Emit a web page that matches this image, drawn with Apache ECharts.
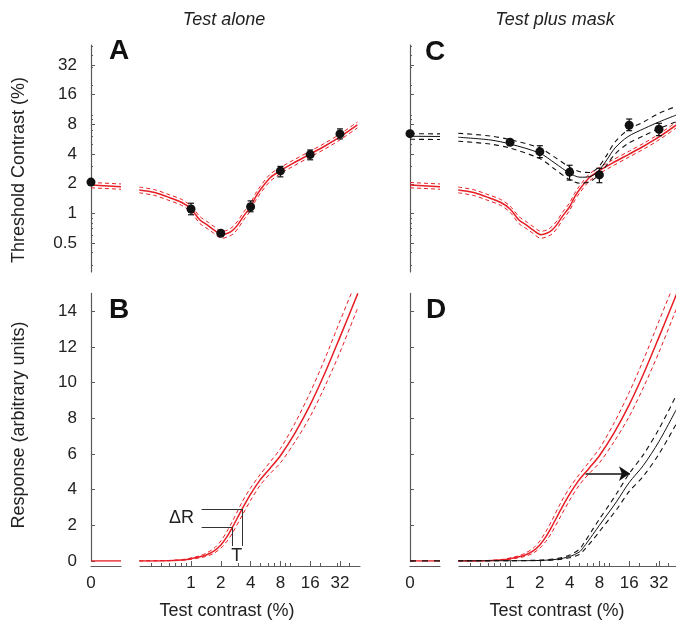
<!DOCTYPE html>
<html><head><meta charset="utf-8">
<script src="https://cdn.jsdelivr.net/npm/echarts@6/dist/echarts.min.js"></script>
<style>html,body{margin:0;padding:0;background:#fff}#c{width:676px;height:621px}</style>
</head><body><div id="c"></div>
<script>
// ================= DATA =================
// axis ticks
const xTickLabels = [1, 2, 4, 8, 16, 32];
const xMinorTicks = [0.4, 0.5, 0.6, 0.7, 0.8, 0.9, 3, 5, 6, 7, 9, 10, 20, 30, 40];
const thrTickLabels = [0.5, 1, 2, 4, 8, 16, 32];
const thrMinorTicks = [0.3, 0.4, 0.6, 0.7, 0.8, 0.9, 3, 5, 6, 7, 9, 10, 20, 30, 40, 50];
const respTickLabels = [0, 2, 4, 6, 8, 10, 12, 14];
const thrRange = [0.255, 51];      // threshold axis extent (%)
const contrastRange = [0.305, 51]; // test contrast axis extent (%)
const respRange = [0, 15];

// zero-contrast segment (two ends of the short segment at contrast 0)
const zeroSegX = [0, 1];

// Test alone fit (red) — threshold
const aloneZeroT  = [1.94, 1.87];
const aloneZeroHi = [2.06, 1.99];
const aloneZeroLo = [1.82, 1.76];
const aloneC  = [0.3, 0.43, 0.57, 0.8, 1, 1.23, 1.5, 1.7, 2.05, 2.35, 2.66, 3.0, 3.37, 4, 4.5, 5, 6.3, 8, 10.7, 16, 22.6, 32, 48];
const aloneT  = [1.73, 1.63, 1.48, 1.3, 1.11, 0.86, 0.75, 0.68, 0.61, 0.63, 0.68, 0.78, 0.93, 1.17, 1.47, 1.73, 2.3, 2.72, 3.22, 4.0, 4.83, 5.96, 7.89];
const aloneHi = [1.85, 1.74, 1.58, 1.39, 1.19, 0.93, 0.81, 0.74, 0.66, 0.68, 0.74, 0.85, 1.02, 1.28, 1.6, 1.88, 2.5, 2.92, 3.45, 4.28, 5.17, 6.38, 8.45];
const aloneLo = [1.62, 1.52, 1.38, 1.21, 1.03, 0.79, 0.69, 0.63, 0.56, 0.58, 0.62, 0.71, 0.85, 1.07, 1.35, 1.59, 2.12, 2.53, 3.0, 3.74, 4.51, 5.57, 7.37];
// Test alone data
const aloneZeroPoint = 2.08;
const aloneDataC  = [1, 2, 4, 8, 16, 32];
const aloneDataT  = [1.11, 0.63, 1.17, 2.7, 3.95, 6.4];
const aloneErrLo  = [0.97, 0.6, 1.04, 2.35, 3.5, 5.7];
const aloneErrHi  = [1.27, 0.66, 1.34, 3.0, 4.4, 7.2];

// Test plus mask fit (black) — threshold
const maskZeroT  = [6.06, 6.03];
const maskZeroHi = [6.44, 6.4];
const maskZeroLo = [5.65, 5.62];
const maskC  = [0.3, 0.63, 1, 2, 2.85, 4, 5.1, 6.4, 7.7, 9.5, 11.5, 15.5, 23, 32.5, 48];
const maskT  = [5.92, 5.56, 5.06, 4.08, 3.23, 2.56, 2.33, 2.36, 2.65, 3.49, 4.61, 6.0, 7.3, 8.52, 9.96];
const maskHi = [6.5, 6.1, 5.6, 4.6, 3.7, 2.95, 2.65, 2.6, 2.9, 3.9, 5.3, 7.0, 8.6, 10.4, 12.2];
const maskLo = [5.4, 5.05, 4.6, 3.6, 2.8, 2.2, 2.02, 2.1, 2.4, 3.1, 4.0, 5.1, 6.2, 7.3, 8.5];
// Test plus mask data
const maskZeroPoint = 6.44;
const maskDataC = [1, 2, 4, 8, 16, 32];
const maskDataT = [5.27, 4.23, 2.62, 2.46, 7.83, 7.13];
const maskErrLo = [5.0, 3.68, 2.18, 2.05, 6.9, 6.15];
const maskErrHi = [5.55, 4.86, 3.08, 2.87, 9.06, 8.2];

// Response functions
const respZero = [0, 0];
const respC  = [0.3, 0.6, 0.87, 1, 1.2, 1.4, 1.7, 2, 2.3, 2.61, 3.28, 4, 5, 6.3, 8, 11.3, 16, 22.6, 32, 48.5];
const respR  = [0, 0.02, 0.07, 0.13, 0.22, 0.32, 0.55, 0.9, 1.35, 1.87, 2.91, 3.75, 4.55, 5.2, 5.9, 7.2, 8.75, 10.55, 12.55, 15.0];
const respHi = [0, 0.03, 0.1, 0.17, 0.28, 0.42, 0.7, 1.12, 1.65, 2.2, 3.3, 4.1, 4.85, 5.55, 6.3, 7.75, 9.45, 11.35, 13.45, 15.9];
const respLo = [0, 0.01, 0.05, 0.1, 0.17, 0.25, 0.43, 0.72, 1.1, 1.55, 2.55, 3.4, 4.25, 4.9, 5.5, 6.7, 8.1, 9.8, 11.7, 14.2];
const respMaskC  = [0.3, 1, 2, 3, 4, 5, 5.5, 6.9, 8, 10.2, 12, 16, 22.2, 32, 48];
const respMaskR  = [0, 0.01, 0.03, 0.1, 0.25, 0.5, 0.75, 1.5, 2.0, 2.8, 3.35, 4.4, 5.35, 6.7, 8.5];
const respMaskHi = [0, 0.02, 0.05, 0.14, 0.33, 0.65, 0.95, 1.8, 2.35, 3.2, 3.8, 4.9, 5.95, 7.4, 9.3];
const respMaskLo = [0, 0.005, 0.02, 0.07, 0.18, 0.37, 0.57, 1.2, 1.65, 2.4, 2.9, 3.9, 4.75, 6.0, 7.7];

// Annotations
const deltaRLevels = [1.87, 2.91];
const deltaRContrasts = [2.61, 3.28];
const deltaRStartC = 1.28;
const deltaRBottom = 0.84;
const deltaRLabel = {c: 0.8, r: 2.43, text: 'ΔR'};
const tLabel = {c: 2.9, r: 0.3, text: 'T'};
const arrowR = 4.9, arrowFromC = 5.8, arrowToC = 16.3;

// ================= STYLE =================
const FONT = '"Liberation Sans", Arial, Helvetica, sans-serif';
const RED = '#e61e25';
const BLK = '#111111';
const AX = '#5a5a5a';
const TXT = '#222';
const L2 = v => Math.log2(v);

const grids = [], xAxes = [], yAxes = [], series = [];
const zeroW = 30, mainGap = 49, mainW = 220;

function buildPanel(p) {
  const isThr = p.kind === 'thr';
  const yMin = isThr ? L2(thrRange[0]) : respRange[0];
  const yMax = isThr ? L2(thrRange[1]) : respRange[1];
  const yMaj = isThr ? thrTickLabels.map(L2) : respTickLabels;
  const gz = grids.length;
  grids.push({left: p.x0, top: p.top, width: zeroW, height: p.height, containLabel: false, outerBoundsMode: 'none'});
  const gm = grids.length;
  grids.push({left: p.x0 + mainGap, top: p.top, width: mainW, height: p.height, containLabel: false, outerBoundsMode: 'none'});
  const lab = {fontSize: 17, fontFamily: FONT, color: TXT};
  const res = {};
  res.xz = xAxes.length;
  xAxes.push({gridIndex: gz, type: 'value', min: 0, max: 1, show: !isThr, position: 'bottom', offset: 5,
    axisLine: {show: true, onZero: false, lineStyle: {color: AX, width: 1.2}},
    axisTick: {show: false},
    axisLabel: Object.assign({show: true, customValues: [0], formatter: () => '0', margin: 9}, lab),
    splitLine: {show: false}});
  res.xm = xAxes.length;
  xAxes.push({gridIndex: gm, type: 'value', min: L2(contrastRange[0]), max: L2(contrastRange[1]), show: !isThr, position: 'bottom', offset: 5,
    axisLine: {show: true, onZero: false, lineStyle: {color: AX, width: 1.2}},
    axisTick: {show: true, inside: true, length: 5, customValues: xTickLabels.map(L2), lineStyle: {color: AX, width: 1}},
    axisLabel: Object.assign({show: true, customValues: xTickLabels.map(L2), formatter: v => String(Math.round(Math.pow(2, v))), margin: 9}, lab),
    splitLine: {show: false}});
  xAxes.push({gridIndex: gm, type: 'value', min: L2(contrastRange[0]), max: L2(contrastRange[1]), show: !isThr, position: 'bottom', offset: 5,
    axisLine: {show: false, onZero: false},
    axisTick: {show: true, inside: true, length: 3, customValues: xMinorTicks.map(L2), lineStyle: {color: AX, width: 1}},
    axisLabel: {show: false}, splitLine: {show: false}});
  res.yz = yAxes.length;
  yAxes.push({gridIndex: gz, type: 'value', min: yMin, max: yMax, position: 'left', offset: 0,
    axisLine: {show: true, onZero: false, lineStyle: {color: AX, width: 1.2}},
    axisTick: {show: true, inside: true, length: 4, customValues: yMaj, lineStyle: {color: AX, width: 1}},
    axisLabel: Object.assign({show: p.yLabels, customValues: yMaj, margin: 14,
      formatter: v => isThr ? String(+Math.pow(2, v).toFixed(2)) : String(v)}, lab),
    splitLine: {show: false}});
  if (isThr) {
    yAxes.push({gridIndex: gz, type: 'value', min: yMin, max: yMax, position: 'left', offset: 0,
      axisLine: {show: false, onZero: false},
      axisTick: {show: true, inside: true, length: 2, customValues: thrMinorTicks.map(L2), lineStyle: {color: AX, width: 1}},
      axisLabel: {show: false}, splitLine: {show: false}});
  }
  res.ym = yAxes.length;
  yAxes.push({gridIndex: gm, type: 'value', min: yMin, max: yMax, show: false, axisLine: {onZero: false}, splitLine: {show: false}});
  res.ty = isThr ? L2 : (v => v);
  return res;
}

const A = buildPanel({x0: 91, top: 45, height: 227, kind: 'thr', yLabels: true});
const C = buildPanel({x0: 410, top: 45, height: 227, kind: 'thr', yLabels: false});
const B = buildPanel({x0: 91, top: 293.4, height: 267.6, kind: 'resp', yLabels: true});
const D = buildPanel({x0: 410, top: 293.4, height: 267.6, kind: 'resp', yLabels: false});

function curve(P, zero, xs, ys, color, width, dash, z) {
  const tx = zero ? (v => v) : L2;
  series.push({type: 'line', xAxisIndex: zero ? P.xz : P.xm, yAxisIndex: zero ? P.yz : P.ym,
    data: xs.map((x, i) => [tx(x), P.ty(ys[i])]),
    symbol: 'none', showSymbol: false, smooth: zero ? false : 0.3, clip: true,
    silent: true, z: z || 2,
    lineStyle: {color: color, width: width, type: dash ? dash : 'solid', opacity: 1}});
}
function points(P, zero, xs, ys) {
  const tx = zero ? (v => v) : L2;
  series.push({type: 'scatter', xAxisIndex: zero ? P.xz : P.xm, yAxisIndex: zero ? P.yz : P.ym,
    data: xs.map((x, i) => [tx(x), P.ty(ys[i])]), symbol: 'circle', symbolSize: 9, clip: false,
    itemStyle: {color: BLK, opacity: 1}, silent: true, z: 6});
}
function errorBars(P, xs, lo, hi) {
  series.push({type: 'custom', xAxisIndex: P.xm, yAxisIndex: P.ym, silent: true, z: 5, clip: false,
    data: xs.map((x, i) => [L2(x), P.ty(lo[i]), P.ty(hi[i])]),
    encode: {x: 0, y: [1, 2]},
    renderItem: (params, api) => {
      const a = api.coord([api.value(0), api.value(1)]);
      const b = api.coord([api.value(0), api.value(2)]);
      const w = 3, st = {stroke: BLK, lineWidth: 1.2};
      return {type: 'group', children: [
        {type: 'line', shape: {x1: a[0], y1: a[1], x2: b[0], y2: b[1]}, style: st},
        {type: 'line', shape: {x1: a[0] - w, y1: a[1], x2: a[0] + w, y2: a[1]}, style: st},
        {type: 'line', shape: {x1: b[0] - w, y1: b[1], x2: b[0] + w, y2: b[1]}, style: st}]};
    }});
}
const DASH_R = [4, 3], DASH_K = [5, 4];

// ---- Panel A ----
curve(A, true, zeroSegX, aloneZeroHi, RED, 1, DASH_R);
curve(A, true, zeroSegX, aloneZeroLo, RED, 1, DASH_R);
curve(A, true, zeroSegX, aloneZeroT, RED, 1.5);
curve(A, false, aloneC, aloneHi, RED, 1, DASH_R);
curve(A, false, aloneC, aloneLo, RED, 1, DASH_R);
curve(A, false, aloneC, aloneT, RED, 1.5);
points(A, true, [zeroSegX[0]], [aloneZeroPoint]);
errorBars(A, aloneDataC, aloneErrLo, aloneErrHi);
points(A, false, aloneDataC, aloneDataT);

// ---- Panel C ----
curve(C, true, zeroSegX, aloneZeroHi, RED, 1, DASH_R);
curve(C, true, zeroSegX, aloneZeroLo, RED, 1, DASH_R);
curve(C, true, zeroSegX, aloneZeroT, RED, 1.5);
curve(C, false, aloneC, aloneHi, RED, 1, DASH_R);
curve(C, false, aloneC, aloneLo, RED, 1, DASH_R);
curve(C, false, aloneC, aloneT, RED, 1.5);
curve(C, true, zeroSegX, maskZeroHi, BLK, 1.1, DASH_K, 3);
curve(C, true, zeroSegX, maskZeroLo, BLK, 1.1, DASH_K, 3);
curve(C, true, zeroSegX, maskZeroT, BLK, 1, null, 3);
curve(C, false, maskC, maskHi, BLK, 1.1, DASH_K, 3);
curve(C, false, maskC, maskLo, BLK, 1.1, DASH_K, 3);
curve(C, false, maskC, maskT, BLK, 1, null, 3);
points(C, true, [zeroSegX[0]], [maskZeroPoint]);
errorBars(C, maskDataC, maskErrLo, maskErrHi);
points(C, false, maskDataC, maskDataT);

// ---- Panel B ----
curve(B, true, zeroSegX, respZero, RED, 1.5);
curve(B, false, respC, respHi, RED, 1, DASH_R);
curve(B, false, respC, respLo, RED, 1, DASH_R);
curve(B, false, respC, respR, RED, 1.5);
series.push({type: 'line', xAxisIndex: B.xm, yAxisIndex: B.ym, data: [], silent: true, z: 4,
  markLine: {silent: true, symbol: 'none', animation: false, label: {show: false},
    lineStyle: {color: '#333', width: 1, type: 'solid'},
    data: [
      [{coord: [L2(deltaRStartC), deltaRLevels[0]]}, {coord: [L2(deltaRContrasts[0]), deltaRLevels[0]]}],
      [{coord: [L2(deltaRStartC), deltaRLevels[1]]}, {coord: [L2(deltaRContrasts[1]), deltaRLevels[1]]}],
      [{coord: [L2(deltaRContrasts[0]), deltaRLevels[0]]}, {coord: [L2(deltaRContrasts[0]), deltaRBottom]}],
      [{coord: [L2(deltaRContrasts[1]), deltaRLevels[1]]}, {coord: [L2(deltaRContrasts[1]), deltaRBottom]}]
    ]}});
series.push({type: 'scatter', xAxisIndex: B.xm, yAxisIndex: B.ym, symbolSize: 1, clip: false, silent: true, z: 7,
  itemStyle: {color: 'rgba(255,255,255,0)', opacity: 1},
  label: {show: true, position: 'inside', formatter: p => p.name, fontSize: 18, fontFamily: FONT, color: TXT, opacity: 1},
  data: [{name: deltaRLabel.text, value: [L2(deltaRLabel.c), deltaRLabel.r]},
         {name: tLabel.text, value: [L2(tLabel.c), tLabel.r]}]});

// ---- Panel D ----
curve(D, true, zeroSegX, respZero, RED, 1.5);
curve(D, true, zeroSegX, respZero, BLK, 1.5, [6, 6], 3);
curve(D, false, respC, respHi, RED, 1, DASH_R);
curve(D, false, respC, respLo, RED, 1, DASH_R);
curve(D, false, respC, respR, RED, 1.5);
curve(D, false, respMaskC, respMaskHi, BLK, 1.1, DASH_K, 3);
curve(D, false, respMaskC, respMaskLo, BLK, 1.1, DASH_K, 3);
curve(D, false, respMaskC, respMaskR, BLK, 1, null, 3);
series.push({type: 'line', xAxisIndex: D.xm, yAxisIndex: D.ym, data: [], silent: true, z: 4,
  markLine: {silent: true, symbol: ['none', 'arrow'], symbolSize: 11, animation: false, label: {show: false},
    lineStyle: {color: BLK, width: 1.6, type: 'solid'},
    itemStyle: {color: BLK},
    data: [[{coord: [L2(arrowFromC), arrowR]}, {coord: [L2(arrowToC), arrowR]}]]}});

const txt = (x, y, text, extra) => ({type: 'text', x: x, y: y, silent: true,
  style: Object.assign({text: text, fontFamily: FONT, fontSize: 18, fill: TXT, align: 'center', verticalAlign: 'middle'}, extra || {})});

const option = {
  animation: false,
  backgroundColor: '#fff',
  textStyle: {fontFamily: FONT},
  grid: grids, xAxis: xAxes, yAxis: yAxes, series: series,
  graphic: [
    txt(224, 20, 'Test alone', {fontStyle: 'italic'}),
    txt(555, 20, 'Test plus mask', {fontStyle: 'italic'}),
    Object.assign(txt(19, 170, 'Threshold Contrast (%)'), {rotation: Math.PI / 2}),
    Object.assign(txt(19, 425, 'Response (arbitrary units)'), {rotation: Math.PI / 2}),
    txt(227, 611, 'Test contrast (%)'),
    txt(557, 611, 'Test contrast (%)'),
    txt(119, 51, 'A', {fontSize: 28, fontWeight: 'bold', fill: '#111'}),
    txt(119, 310, 'B', {fontSize: 28, fontWeight: 'bold', fill: '#111'}),
    txt(435, 52, 'C', {fontSize: 28, fontWeight: 'bold', fill: '#111'}),
    txt(436, 310, 'D', {fontSize: 28, fontWeight: 'bold', fill: '#111'})
  ]
};
const chart = echarts.init(document.getElementById('c'), null, {renderer: 'canvas', width: 676, height: 621});
chart.setOption(option);
</script>
</body></html>
